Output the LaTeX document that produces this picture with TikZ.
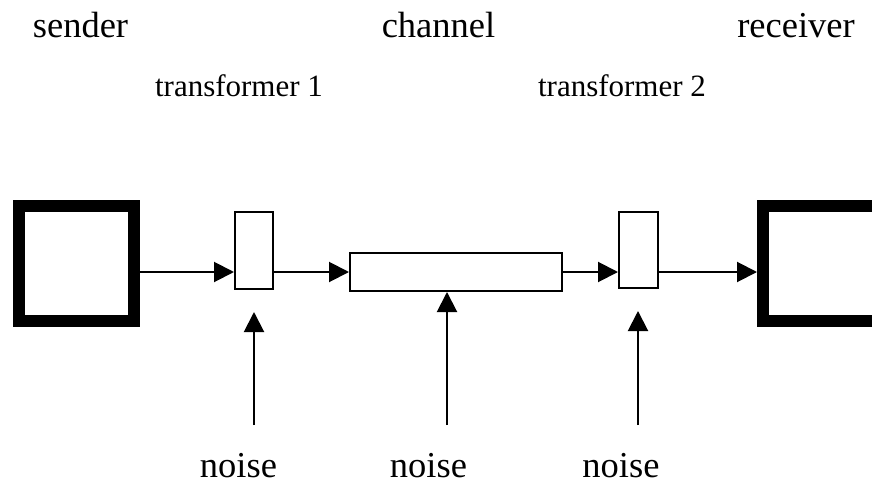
\documentclass[tikz,border=0pt]{standalone}
\usepackage{fontspec}
\setmainfont{Liberation Serif}
\usetikzlibrary{arrows.meta, positioning}
\tikzset{
    % Box styles
    endbox/.style={
        rectangle,
        draw=black,
        fill=white,
        line width=6pt,
        inner sep=0pt,
        minimum width=57.5pt,
        minimum height=57.5pt
    },
    smallbox/.style={
        rectangle,
        draw=black,
        fill=white,
        line width=1pt,
        inner sep=0pt
    },
    % Label styles
    biglabel/.style={
        anchor=base,
        inner sep=0pt,
        font=\fontsize{18.25pt}{22pt}\selectfont
    },
    smalllabel/.style={
        anchor=base,
        inner sep=0pt,
        font=\fontsize{15.5pt}{18pt}\selectfont
    },
    % Arrow style
    arrow/.style={
        -{Triangle[length=10pt,width=10pt]},
        line width=1pt,
        draw=black
    }
}
\begin{document}
\begin{tikzpicture}[x=0.5pt, y=-0.5pt]
    \clip (0,0) rectangle (872,481);

    % Top labels
    \node[biglabel] (snd) at (80.5,38) {sender};
    \node[biglabel] (chl) at (438.5,38) {channel};
    \node[biglabel] (rcv) at (796,38) {receiver};
    \node[smalllabel] (tfa) at (239,97) {transformer 1};
    \node[smalllabel] (tfb) at (622,97) {transformer 2};

    % Boxes
    \node[endbox] (sender) at (76.5,263.5) {};
    \node[smallbox, minimum width=19pt, minimum height=38.5pt] (tone) at (254,250.5) {};
    \node[smallbox, minimum width=106pt, minimum height=19pt] (chan) at (456,272) {};
    \node[smallbox, minimum width=19.5pt, minimum height=38pt] (ttwo) at (638.5,250) {};
    \node[endbox] (receiver) at (820.5,263.5) {};

    % Arrows
    \draw[arrow] (sender.east |- chan.west) -- (tone.west |- chan.west);
    \draw[arrow] (tone.east |- chan.west) -- (chan.west);
    \draw[arrow] (chan.east) -- (ttwo.west |- chan.east);
    \draw[arrow] (ttwo.east |- chan.east) -- (receiver.west |- chan.east);

    % Noise sources
    \coordinate (nza) at (254,425);
    \coordinate (nzb) at (447,425);
    \coordinate (nzc) at (638,425);
    \draw[arrow, shorten >=11pt] (nza) -- (nza |- tone.south);
    \draw[arrow] (nzb) -- (nzb |- chan.south);
    \draw[arrow, shorten >=11pt] (nzc) -- (nzc |- ttwo.south);

    \node[biglabel] (nla) at (238.5,477) {noise};
    \node[biglabel] (nlb) at (428.5,477) {noise};
    \node[biglabel] (nlc) at (621,477) {noise};
\end{tikzpicture}
\end{document}
